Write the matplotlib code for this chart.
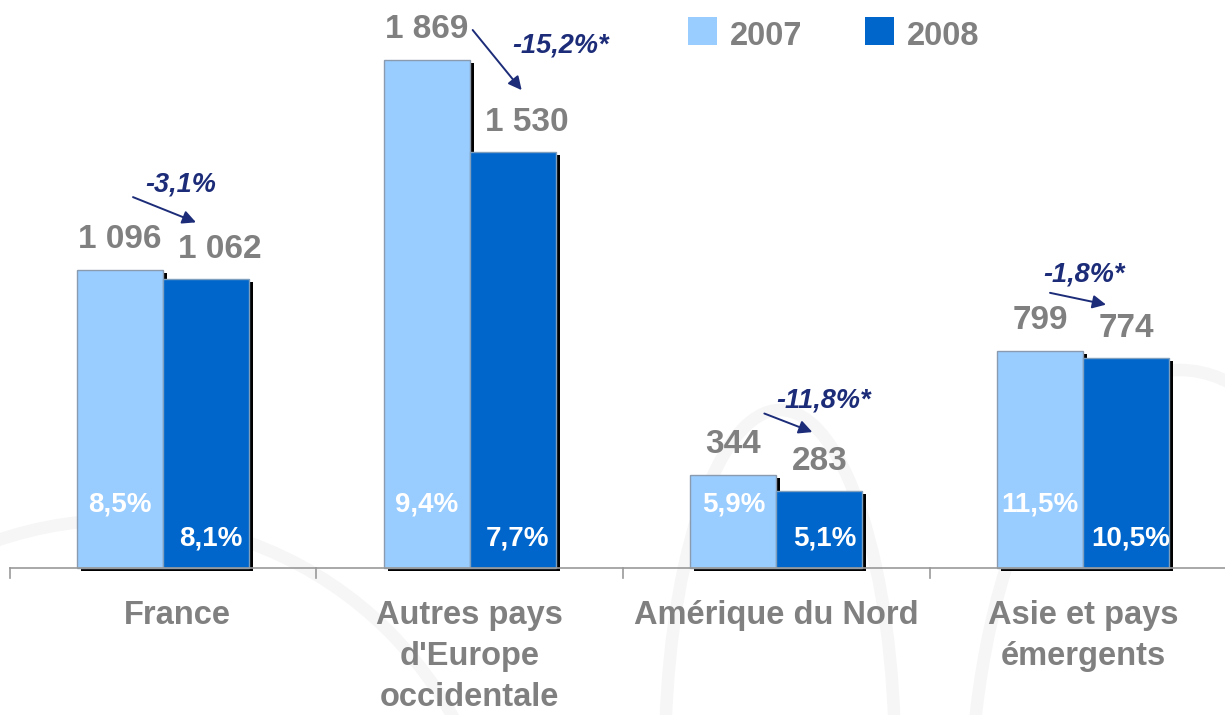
import numpy as np
import matplotlib
matplotlib.use("Agg")
import matplotlib.pyplot as plt
from matplotlib.patches import Rectangle, Arc

plt.rcParams['font.family'] = ['Liberation Sans', 'DejaVu Sans']

# data
regions = ["France", "Autres pays\nd'Europe\noccidentale", "Amérique du Nord",
           "Asie et pays\némergents"]
values_2007 = [1096, 1869, 344, 799]
values_2008 = [1062, 1530, 283, 774]
share_2007 = ["8,5%", "9,4%", "5,9%", "11,5%"]
share_2008 = ["8,1%", "7,7%", "5,1%", "10,5%"]
changes = ["-3,1%", "-15,2%*", "-11,8%*", "-1,8%*"]
years = ["2007", "2008"]

c07 = '#99ccff'
c08 = '#0066cc'
grey = '#808080'
navy = '#1c2c78'

W, H = 1225, 715
fig = plt.figure(figsize=(W / 100, H / 100), dpi=100)
ax = fig.add_axes([0, 0, 1, 1])
# one category = 306.67 px, baseline at 568 px from top, 0.2718 px per unit
CAT = 306.67
PX = 1 / CAT
PY = 1 / 0.2718
ax.set_xlim(-163 * PX, (W - 163) * PX)
ax.set_ylim(-(H - 568) * PY, 568 * PY)
ax.axis('off')

# faint background watermark
for (cx, cy, w, h, t1, t2) in [(780, 760, 230, 700, 0, 180),
                               (120, 900, 760, 760, 20, 110),
                               (1180, 820, 420, 900, 60, 180)]:
    ax.add_patch(Arc(((cx - 163) * PX, (568 - cy) * PY), w * PX, h * PY,
                     theta1=t1, theta2=t2, color='#f6f6f6', lw=9, zorder=0))

x = np.arange(len(regions))
bw = 86 * PX

# shadows, then bars
ax.bar(x - bw + 4 * PX, values_2007, width=bw, bottom=-3 * PY, align='edge',
       color='black', zorder=1)
ax.bar(x + 4 * PX, values_2008, width=bw, bottom=-3 * PY, align='edge',
       color='black', zorder=1)
ax.bar(x - bw, values_2007, width=bw, align='edge', color=c07,
       edgecolor='#8a9bb0', lw=1, zorder=2)
ax.bar(x, values_2008, width=bw, align='edge', color=c08,
       edgecolor='#7f9fbf', lw=1, zorder=3)

# axis line and ticks
ax.plot([-0.5, len(regions) - 0.5], [0, 0], color='#999999', lw=1.2,
        zorder=4, clip_on=False)
for t in np.arange(-0.5, len(regions), 1.0):
    ax.plot([t, t], [0, -10 * PY], color='#999999', lw=1.2, zorder=4)

lab08_dx = [14, 14, 0, 0]
cat_dx = [14, 0, 0, 0]
for i in range(len(regions)):
    ax.text(i - bw / 2, values_2007[i] + 22 * PY, f"{values_2007[i]:,}".replace(',', ' '),
            ha='center', va='baseline', fontsize=24, fontweight='bold', color=grey)
    ax.text(i + bw / 2 + lab08_dx[i] * PX, values_2008[i] + 21 * PY,
            f"{values_2008[i]:,}".replace(',', ' '),
            ha='center', va='baseline', fontsize=24, fontweight='bold', color=grey)
    ax.text(i - bw / 2, 56 * PY, share_2007[i], ha='center', va='baseline',
            fontsize=20, fontweight='bold', color='white', zorder=5)
    ax.text(i + bw / 2 + 5 * PX, 22 * PY, share_2008[i], ha='center', va='baseline',
            fontsize=20, fontweight='bold', color='white', zorder=5)
    ax.text(i + cat_dx[i] * PX, -32 * PY, regions[i], ha='center', va='top',
            fontsize=23.5, fontweight='bold', color=grey, linespacing=1.41)

# change arrows: (dx start, dy above 2007 top, dx end, dy above 2008 top, text dx, text dy)
arrows = [(-30, 73, 33, 57, 18, 88),
          (3, 30, 52, 62, 91, 100),
          (-12, 61, 36, 59, 47, 84),
          (-33, 58, 23, 53, 1, 76)]
for i, (sx, sy, ex, ey, tx, ty) in enumerate(arrows):
    ax.annotate('', xy=(i + ex * PX, values_2008[i] + ey * PY),
                xytext=(i + sx * PX, values_2007[i] + sy * PY),
                arrowprops=dict(arrowstyle='-|>', color=navy, lw=1.4,
                                mutation_scale=20, shrinkA=0, shrinkB=0),
                zorder=6)
    ax.text(i + tx * PX, values_2008[i] + ty * PY, changes[i], ha='center',
            va='baseline', fontsize=19.5, fontweight='bold', style='italic', color=navy)

# legend
for (lx, txt, col) in [(688, years[0], c07), (865, years[1], c08)]:
    fig.patches.append(Rectangle((lx / W, (H - 45) / H), 29 / W, 28 / H,
                                 transform=fig.transFigure, facecolor=col,
                                 edgecolor='none'))
    fig.text((lx + 42) / W, (H - 45) / H, txt, ha='left', va='baseline',
             fontsize=23.5, fontweight='bold', color=grey)

fig.savefig('out.png', dpi=100)
